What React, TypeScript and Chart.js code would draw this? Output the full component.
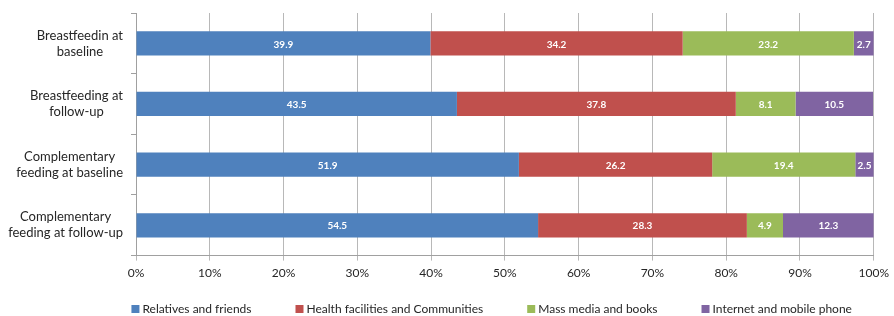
import React, { useEffect, useRef } from "react";
import { Chart, registerables } from "chart.js";

Chart.register(...registerables);

const categories: string[][] = [
  ["Breastfeedin at", "baseline"],
  ["Breastfeeding at", "follow-up"],
  ["Complementary", "feeding at baseline"],
  ["Complementary", "feeding at follow-up"],
];
const seriesNames = [
  "Relatives and friends",
  "Health facilities and Communities",
  "Mass media and books",
  "Internet and mobile phone",
];
const relatives = [39.9, 43.5, 51.9, 54.5];
const health = [34.2, 37.8, 26.2, 28.3];
const media = [23.2, 8.1, 19.4, 4.9];
const internet = [2.7, 10.5, 2.5, 12.3];
const colors = ["#4F81BD", "#C0504D", "#9BBB59", "#8064A2"];
const xTicks = [0, 10, 20, 30, 40, 50, 60, 70, 80, 90, 100];

const FONT = "Lato, 'Liberation Sans', sans-serif";

const dataLabelPlugin = {
  id: "dataLabels",
  afterDatasetsDraw(chart: any) {
    const ctx = chart.ctx;
    ctx.save();
    ctx.font = `bold 10px ${FONT}`;
    ctx.fillStyle = "#ffffff";
    ctx.textAlign = "center";
    ctx.textBaseline = "middle";
    chart.data.datasets.forEach((ds: any, di: number) => {
      const meta = chart.getDatasetMeta(di);
      meta.data.forEach((bar: any, i: number) => {
        const v = ds.data[i];
        const cx = (bar.x + bar.base) / 2;
        ctx.fillText(v.toFixed(1), cx, bar.y + 1);
      });
    });
    ctx.restore();
  },
};

const yLabelPlugin = {
  id: "yLabels",
  afterDraw(chart: any) {
    const ctx = chart.ctx;
    const yScale = chart.scales.y;
    const right = chart.chartArea.left - 13;
    const lineH = 16;
    ctx.save();
    ctx.font = `13px ${FONT}`;
    ctx.fillStyle = "#262626";
    ctx.textAlign = "center";
    ctx.textBaseline = "middle";
    categories.forEach((lines, i) => {
      const w = Math.max(...lines.map((l) => ctx.measureText(l).width));
      const cx = right - w / 2;
      const cy = yScale.getPixelForTick(i);
      const y0 = cy - ((lines.length - 1) * lineH) / 2;
      lines.forEach((l, k) => ctx.fillText(l, cx, y0 + k * lineH));
    });
    ctx.restore();
  },
};

const legendPlugin = {
  id: "customLegend",
  afterDraw(chart: any) {
    const ctx = chart.ctx;
    ctx.save();
    ctx.font = `12px ${FONT}`;
    ctx.textBaseline = "middle";
    ctx.textAlign = "left";
    const box = 8;
    const boxGap = 3;
    const gap = 44;
    const items = chart.data.datasets.map((ds: any) => ({
      text: ds.label,
      color: ds.backgroundColor,
      w: box + boxGap + ctx.measureText(ds.label).width,
    }));
    const total = items.reduce((s: number, it: any) => s + it.w, 0) + gap * (items.length - 1);
    const center = chart.width * 0.55;
    let x = center - total / 2;
    const y = chart.height - 7;
    items.forEach((it: any) => {
      ctx.fillStyle = it.color;
      ctx.fillRect(x, y - box / 2, box, box);
      ctx.fillStyle = "#262626";
      ctx.fillText(it.text, x + box + boxGap, y);
      x += it.w + gap;
    });
    ctx.restore();
  },
};

export default function App() {
  const ref = useRef<HTMLCanvasElement>(null);
  useEffect(() => {
    document.body.style.margin = "0";
    const values = [relatives, health, media, internet];
    const chart = new Chart(ref.current!, {
      type: "bar",
      data: {
        labels: categories.map((c) => c.join(" ")),
        datasets: seriesNames.map((name, i) => ({
          label: name,
          data: values[i],
          backgroundColor: colors[i],
          borderWidth: 0,
          barPercentage: 0.4,
          categoryPercentage: 1,
        })),
      },
      options: {
        indexAxis: "y",
        animation: false,
        responsive: false,
        maintainAspectRatio: false,
        layout: { padding: { top: 13, right: 14, bottom: 31, left: 0 } },
        plugins: {
          legend: { display: false },
          tooltip: { enabled: false },
        },
        scales: {
          x: {
            stacked: true,
            min: 0,
            max: 100,
            afterBuildTicks: (scale: any) => {
              scale.ticks = xTicks.map((v) => ({ value: v }));
            },
            ticks: {
              callback: (v: any) => `${v}%`,
              font: { family: FONT, size: 12 },
              color: "#262626",
              padding: 5,
              maxRotation: 0,
            },
            grid: {
              color: "#b8b8b8",
              tickLength: 5,
              lineWidth: 1,
            },
            border: { color: "#a0a0a0" },
          },
          y: {
            stacked: true,
            ticks: { display: false },
            grid: {
              offset: true,
              drawOnChartArea: false,
              tickLength: 5,
              color: "#a0a0a0",
            },
            border: { color: "#a0a0a0" },
            afterFit: (scale: any) => {
              scale.width = 136;
            },
          },
        },
      },
      plugins: [dataLabelPlugin, yLabelPlugin, legendPlugin],
    });
    return () => chart.destroy();
  }, []);
  return (
    <div style={{ width: 894, height: 316 }}>
      <canvas ref={ref} width={894} height={316} style={{ display: "block" }} />
    </div>
  );
}
